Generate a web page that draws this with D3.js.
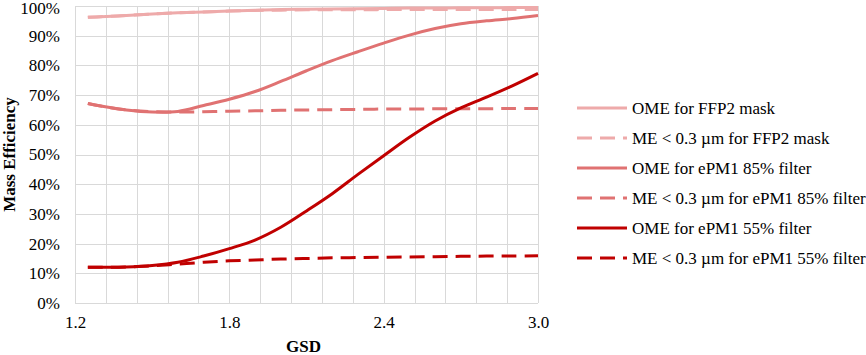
<!DOCTYPE html>
<html><head><meta charset="utf-8">
<script src="https://cdn.jsdelivr.net/npm/d3@7"></script>
<style>body{margin:0;background:#fff}svg{display:block}svg text{font-family:'Liberation Serif','DejaVu Serif',serif !important;fill:#000}</style>
</head><body><svg id="c" width="866" height="355"></svg>
<script>
const gsd = [1.25,1.3,1.4,1.5,1.6,1.7,1.8,1.9,2.0,2.1,2.2,2.3,2.4,2.5,2.6,2.7,2.8,2.9,3.0];
const omeFFP2 = [96.2,96.4,96.8,97.3,97.7,98.0,98.3,98.6,98.8,98.9,99.0,99.1,99.2,99.3,99.3,99.4,99.4,99.5,99.5];
const meFFP2  = [96.2,96.4,96.8,97.3,97.7,98.0,98.3,98.5,98.6,98.7,98.7,98.7,98.8,98.8,98.8,98.8,98.8,98.8,98.8];
const ome85 = [67.2,66.3,65.0,64.3,64.5,66.5,68.6,71.2,74.6,78.2,81.6,84.6,87.5,90.2,92.4,94.0,95.0,95.8,96.8];
const me85  = [67.2,66.3,65.0,64.4,64.3,64.4,64.6,64.7,64.9,65.0,65.1,65.2,65.3,65.3,65.4,65.4,65.4,65.5,65.5];
const ome55 = [12.0,12.0,12.1,12.6,13.7,15.8,18.3,21.2,25.5,31.0,36.8,43.3,49.6,55.8,61.3,65.7,69.3,73.1,77.3];
const me55  = [12.0,12.0,12.1,12.5,13.1,13.7,14.2,14.5,14.8,15.0,15.2,15.3,15.4,15.5,15.6,15.7,15.8,15.8,15.9];
const seriesNames = ["OME for FFP2 mask","ME < 0.3 µm for FFP2 mask","OME for ePM1 85% filter","ME < 0.3 µm for ePM1 85% filter","OME for ePM1 55% filter","ME < 0.3 µm for ePM1 55% filter"];
const seriesValues = [omeFFP2, meFFP2, ome85, me85, ome55, me55];
const seriesColors = ["#eeaaaa","#eeaaaa","#e07272","#e07272","#c00000","#c00000"];
const seriesDashed = [false,true,false,true,false,true];
const xTickLabels = ["1.2","1.8","2.4","3.0"];
const yTickValues = [0,10,20,30,40,50,60,70,80,90,100];
const FONT = "'Liberation Serif','DejaVu Serif',serif";
const FS = 17;

const svg = d3.select("#c");
const L=75, R=538, T=6, B=303;
const x = d3.scaleLinear().domain([1.2,3.0]).range([L,R]);
const y = d3.scaleLinear().domain([0,100]).range([B,T]);

// grid
const grid = svg.append("g");
const vgrid = d3.range(16).map(i=>1.2+i*0.12);
grid.selectAll("line.v").data(vgrid).enter().append("line")
  .attr("x1",d=>Math.round(x(d))+0.5).attr("x2",d=>Math.round(x(d))+0.5)
  .attr("y1",T).attr("y2",B).attr("stroke","#d9d9d9").attr("stroke-width",1);
grid.selectAll("line.h").data(yTickValues).enter().append("line")
  .attr("x1",L).attr("x2",R)
  .attr("y1",d=>Math.round(y(d))+0.5).attr("y2",d=>Math.round(y(d))+0.5)
  .attr("stroke","#d9d9d9").attr("stroke-width",1);

// axes
const yAxis = d3.axisLeft(y).tickValues(yTickValues).tickFormat(d=>d+"%").tickSize(0).tickPadding(15);
const yg = svg.append("g").attr("transform",`translate(${L},0)`).call(yAxis).attr("font-family",FONT).attr("font-size",FS);
yg.select(".domain").remove();
yg.selectAll(".tick").filter(d=>d===100).select("text").attr("dy","0.45em");
const xAxis = d3.axisBottom(x).tickValues(xTickLabels.map(Number)).tickFormat((d,i)=>xTickLabels[i]).tickSize(0).tickPadding(13);
const xg = svg.append("g").attr("transform",`translate(0,${B})`).call(xAxis).attr("font-family",FONT).attr("font-size",FS);
xg.select(".domain").remove();

svg.append("text").attr("x",(L+R)/2-3).attr("y",352).attr("text-anchor","middle")
  .attr("font-family",FONT).attr("font-size",FS).attr("font-weight","bold").text("GSD");
svg.append("text").attr("transform",`translate(15,${(T+B)/2}) rotate(-90)`).attr("text-anchor","middle")
  .attr("font-family",FONT).attr("font-size",FS).attr("font-weight","bold").text("Mass Efficiency");

// lines
const line = d3.line().x((d,i)=>x(gsd[i])).y(d=>y(d)).curve(d3.curveCatmullRom.alpha(0.5));
seriesValues.forEach((vals,k)=>{
  svg.append("path").attr("d",line(vals)).attr("fill","none")
    .attr("stroke",seriesColors[k]).attr("stroke-width",3)
    .attr("stroke-dasharray",seriesDashed[k]?"15,8":null);
});

// legend
const lg = svg.append("g");
seriesNames.forEach((n,k)=>{
  const yy = 108 + k*30;
  lg.append("line").attr("x1",577).attr("x2",627).attr("y1",yy).attr("y2",yy)
    .attr("stroke",seriesColors[k]).attr("stroke-width",3)
    .attr("stroke-dasharray",seriesDashed[k]?"15,8":null);
  lg.append("text").attr("x",632).attr("y",yy).attr("dy","0.35em")
    .attr("font-family",FONT).attr("font-size",FS).text(n);
});
</script></body></html>
